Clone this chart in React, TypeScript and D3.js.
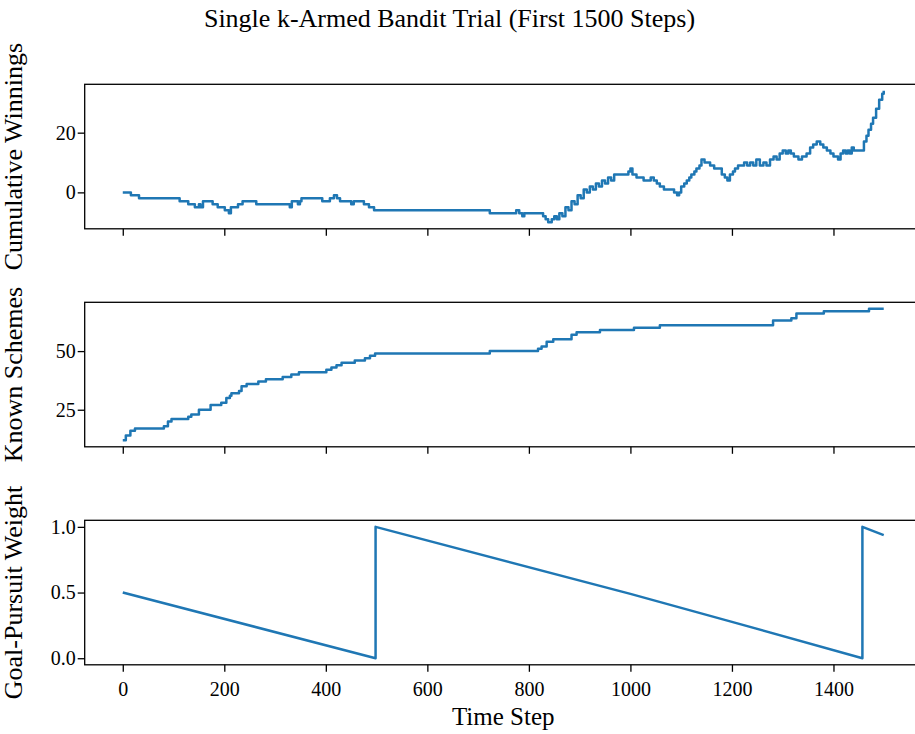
import React, { useRef, useEffect } from 'react';
import * as d3 from 'd3';

// x axis ticks
const stepTicks = [0, 200, 400, 600, 800, 1000, 1200, 1400];

// cumulative winnings (step, value) breakpoints
const winSteps = [
    0, 16, 32, 112, 129, 142, 150, 153, 158, 177, 187, 201, 209, 213, 227, 236, 263, 329, 333, 345,
    349, 352, 393, 408, 416, 422, 428, 450, 455, 475, 485, 495, 723, 775, 781, 787, 791, 828, 833, 838,
    845, 850, 855, 860, 866, 872, 878, 884, 890, 896, 902, 908, 914, 920, 926, 932, 938, 944, 950, 956,
    962, 968, 980, 992, 996, 1000, 1004, 1012, 1020, 1026, 1032, 1040, 1046, 1052, 1058, 1066, 1078, 1086, 1092, 1096,
    1100, 1106, 1111, 1116, 1120, 1126, 1130, 1136, 1140, 1146, 1157, 1165, 1173, 1180, 1186, 1191, 1196, 1202, 1206, 1212,
    1219, 1224, 1230, 1236, 1242, 1248, 1255, 1262, 1268, 1275, 1282, 1288, 1294, 1300, 1306, 1311, 1316, 1322, 1331, 1338,
    1347, 1354, 1360, 1367, 1374, 1380, 1387, 1394, 1400, 1409, 1414, 1419, 1424, 1428, 1432, 1436, 1440, 1446, 1454, 1460,
    1465, 1469, 1474, 1478, 1484, 1490, 1496, 1499,
];
const winValues = [
    0, -1, -2, -3, -4, -5, -4, -5, -3, -4, -5, -6, -7, -5, -4, -3, -4, -5, -3, -4,
    -3, -2, -3, -2, -1, -2, -3, -4, -3, -4, -5, -6, -7, -6, -7, -8, -7, -8, -9, -10,
    -9, -8, -9, -7, -8, -5, -6, -3, -4, -1, -2, 1, 0, 2, 1, 3, 2, 4, 3, 5,
    4, 6, 6, 6, 7, 8, 6, 5, 5, 4, 4, 5, 4, 3, 2, 1, 1, 0, -1, 0,
    2, 3, 4, 5, 6, 7, 8, 9, 11, 10, 9, 8, 8, 6, 5, 4, 6, 7, 8, 9,
    9, 10, 9, 10, 9, 11, 9, 10, 9, 11, 12, 11, 13, 14, 13, 14, 13, 12, 11, 12,
    13, 15, 16, 17, 16, 15, 14, 13, 12, 11, 13, 14, 13, 14, 13, 15, 14, 14, 14, 17,
    19, 21, 23, 25, 28, 31, 33, 34,
];

// known schemes (step, count)
const schemeSteps = [
    0, 6, 15, 24, 81, 89, 96, 129, 135, 150, 173, 194, 204, 211, 214, 229, 234, 244, 267, 282,
    315, 332, 347, 401, 411, 421, 431, 457, 477, 487, 497, 723, 818, 825, 835, 848, 884, 894, 940, 1007,
    1058, 1281, 1317, 1327, 1381, 1470, 1499,
];
const schemeValues = [
    12, 14, 16, 17, 18, 20, 21, 22, 23, 25, 27, 28, 30, 31, 32, 33, 35, 36, 37, 38,
    39, 40, 41, 42, 43, 44, 45, 46, 47, 48, 49, 50, 51, 52, 54, 55, 57, 58, 59, 60,
    61, 63, 64, 66, 67, 68, 68,
];

// goal-pursuit weight
const weightSteps = [0, 498, 498, 1000, 1200, 1457, 1457, 1499];
const weightValues = [0.5, 0, 1.0, 0.49, 0.277, 0, 1.0, 0.937];

const W = 915;
const H = 734;
const FONT = '"Liberation Serif", "Times New Roman", serif';
const BLUE = '#1f77b4';

const App: React.FC = () => {
    const ref = useRef<SVGSVGElement | null>(null);

    useEffect(() => {
        if (!ref.current) return;
        const svg = d3.select(ref.current);
        svg.selectAll('*').remove();

        const left = 84.7, right = 921.8, ph = 144.5;
        const x = d3.scaleLinear().domain([-75, 1574]).range([left, right]);

        const panels = [
            { top: 84.3, label: 'Cumulative Winnings', steps: winSteps, values: winValues, domain: [-12.2, 36.2], ticks: [0, 20], fmt: d3.format('d'), step: true, xLabels: false },
            { top: 302.3, label: 'Known Schemes', steps: schemeSteps, values: schemeValues, domain: [9.2, 70.8], ticks: [25, 50], fmt: d3.format('d'), step: true, xLabels: false },
            { top: 520.3, label: 'Goal-Pursuit Weight', steps: weightSteps, values: weightValues, domain: [-0.05, 1.05], ticks: [0, 0.5, 1], fmt: d3.format('.1f'), step: false, xLabels: true },
        ];

        // title
        svg.append('text')
            .attr('x', 449.5)
            .attr('y', 27)
            .attr('text-anchor', 'middle')
            .style('font-family', FONT)
            .style('font-size', '26px')
            .text('Single k-Armed Bandit Trial (First 1500 Steps)');

        panels.forEach(p => {
            const y = d3.scaleLinear().domain(p.domain).range([p.top + ph, p.top]);
            const g = svg.append('g');

            const data = p.steps.map((s, i) => [s, p.values[i]] as [number, number]);
            const line = d3.line<[number, number]>()
                .x(d => x(d[0]))
                .y(d => y(d[1]))
                .curve(p.step ? d3.curveStepAfter : d3.curveLinear);

            g.append('path')
                .datum(data)
                .attr('fill', 'none')
                .attr('stroke', BLUE)
                .attr('stroke-width', 2.5)
                .attr('stroke-linejoin', 'round')
                .attr('d', line);

            // frame
            g.append('rect')
                .attr('x', left)
                .attr('y', p.top)
                .attr('width', right - left)
                .attr('height', ph)
                .attr('fill', 'none')
                .attr('stroke', '#000')
                .attr('stroke-width', 1.3);

            const yAxis = d3.axisLeft(y).tickValues(p.ticks).tickFormat(p.fmt as any).tickSize(7).tickPadding(2);
            const ya = g.append('g').attr('transform', `translate(${left},0)`).call(yAxis);
            ya.select('.domain').remove();
            ya.selectAll('line').attr('stroke', '#000').attr('stroke-width', 1.3);
            ya.selectAll('text').style('font-family', FONT).style('font-size', '20px').attr('fill', '#000');

            const xAxis = d3.axisBottom(x).tickValues(stepTicks).tickSize(7).tickPadding(10)
                .tickFormat((d: any) => (p.xLabels ? String(d) : ''));
            const xa = g.append('g').attr('transform', `translate(0,${p.top + ph})`).call(xAxis);
            xa.select('.domain').remove();
            xa.selectAll('line').attr('stroke', '#000').attr('stroke-width', 1.3);
            xa.selectAll('text').style('font-family', FONT).style('font-size', '20px').attr('fill', '#000');

            // y label
            svg.append('text')
                .attr('transform', `translate(22,${p.top + ph / 2}) rotate(-90)`)
                .attr('text-anchor', 'middle')
                .style('font-family', FONT)
                .style('font-size', '26px')
                .text(p.label);
        });

        svg.append('text')
            .attr('x', (left + right) / 2)
            .attr('y', 725)
            .attr('text-anchor', 'middle')
            .style('font-family', FONT)
            .style('font-size', '25px')
            .text('Time Step');
    }, []);

    return (
        <svg
            ref={ref}
            width={W}
            height={H}
            style={{ position: 'absolute', left: 0, top: 0, background: '#fff' }}
        ></svg>
    );
};

export default App;
